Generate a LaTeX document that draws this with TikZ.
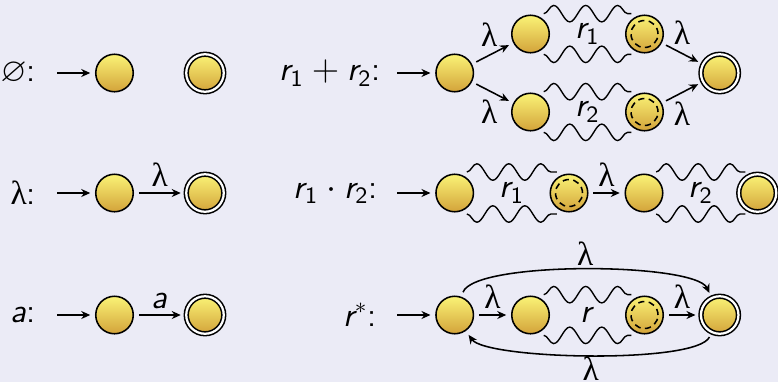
\documentclass[tikz,border=0pt]{standalone}
\usepackage{amsmath,amssymb}
\usepackage{fontspec}
\usepackage{tikz}
\usetikzlibrary{arrows.meta,calc,decorations.pathmorphing}
\newfontfamily\lamfont{Liberation Serif}
\newcommand{\lam}{{\lamfont λ}}
\newcommand{\rv}[1]{\textit{r}_{\textsf{#1}}}
\definecolor{slide}{RGB}{235,235,246}
\definecolor{stTop}{RGB}{250,243,118}
\definecolor{stBot}{RGB}{211,163,58}

\begin{document}
\begin{tikzpicture}[x=0.4pt,y=0.4pt,>={Stealth[length=3.6pt,width=3.2pt]},
  font=\sffamily\fontsize{13.4}{16}\selectfont,line width=0.62pt,
  state/.style={circle,draw,minimum size=15pt,inner sep=0pt,outer sep=2.2pt,
    top color=stTop,bottom color=stBot},
  final/.style={state,double=white,double distance=0.9pt},
  mid/.style={state,path picture={\draw[dash pattern=on 2.5pt off 1.75pt]
    (path picture bounding box.center) circle (5.4pt);}},
  wave/.style={decorate,line width=0.55pt,
    decoration={snake,segment length=12.8pt,amplitude=3.3pt}},
  wavedn/.style={wave,decoration={mirror}}]
  \def\rA{309}  % top row
  \def\rB{189}  % middle row
  \def\rC{67}   % bottom row
  \def\up{348}  % upper branch of r1+r2
  \def\dn{270}  % lower branch of r1+r2
  \useasboundingbox (0,0) rectangle (778,382);
  \fill[slide] (0,0) rectangle (778,382);
  % empty set
  \node[anchor=east] (tE) at (45,\rA) {$\varnothing$:};
  \coordinate (iE) at (57,\rA);
  \node[state] (e0) at (114.5,\rA) {};
  \node[final] (e1) at (205,\rA) {};
  \draw[->] (iE) -- (e0);
  % lambda
  \node[anchor=east] (tL) at (45,\rB) {\lam:};
  \coordinate (iL) at (57,\rB);
  \node[state] (l0) at (114.5,\rB) {};
  \node[final] (l1) at (205,\rB) {};
  \draw[->] (iL) -- (l0);
  \draw[->] (l0) -- node[above=-1pt] (kL) {\lam} (l1);
  % symbol a
  \node[anchor=east] (tS) at (45,\rC) {\textit{a}:};
  \coordinate (iS) at (57,\rC);
  \node[state] (a0) at (114.5,\rC) {};
  \node[final] (a1) at (205,\rC) {};
  \draw[->] (iS) -- (a0);
  \draw[->] (a0) -- node[above=-1pt] (kS) {\textit{a}} (a1);
  % union r1 + r2
  \node[anchor=east] (tU) at (390,\rA) {$\rv{1}+\rv{2}$:};
  \coordinate (iU) at (397,\rA);
  \node[state] (u0) at (454.7,\rA) {};
  \node[state] (u1) at (530.5,\up) {};
  \node[mid] (u2) at (644.5,\up) {};
  \node[state] (d1) at (530.5,\dn) {};
  \node[mid] (d2) at (644.5,\dn) {};
  \node[final] (uf) at (719.7,\rA) {};
  \draw[->] (iU) -- (u0);
  \draw[->] (u0) -- node[above,pos=0.4] (kU1) {\lam} (u1);
  \draw[->] (u0) -- node[below,pos=0.4] (kD1) {\lam} (d1);
  \draw[->] (u2) -- node[above,pos=0.5] (kU2) {\lam} (uf);
  \draw[->] (d2) -- node[below,pos=0.5] (kD2) {\lam} (uf);
  \draw[wave] (u1.57) -- (u2.123);
  \draw[wavedn] (u1.-57) -- (u2.-123);
  \draw[wave] (d1.57) -- (d2.123);
  \draw[wavedn] (d1.-57) -- (d2.-123);
  \node (nU) at ($(u1)!0.5!(u2)$) {$\rv{1}$};
  \node (nD) at ($(d1)!0.5!(d2)$) {$\rv{2}$};
  % concatenation r1 . r2
  \node[anchor=east] (tC) at (387,\rB) {$\rv{1}\cdot\rv{2}$:};
  \coordinate (iC) at (397,\rB);
  \node[state] (c0) at (454.7,\rB) {};
  \node[mid] (c1) at (569,\rB) {};
  \node[state] (c2) at (644,\rB) {};
  \node[final] (c3) at (757.5,\rB) {};
  \draw[->] (iC) -- (c0);
  \draw[->] (c1) -- node[above=-1pt] (kC) {\lam} (c2);
  \draw[wave] (c0.60) -- (c1.120);
  \draw[wavedn] (c0.-60) -- (c1.-120);
  \draw[wave] (c2.60) -- (c3.120);
  \draw[wavedn] (c2.-60) -- (c3.-120);
  \node (nC1) at ($(c0)!0.5!(c1)$) {$\rv{1}$};
  \node (nC2) at ($(c2)!0.5!(c3)$) {$\rv{2}$};
  % star r*
  \node[anchor=east] (tR) at (386,\rC) {$\textit{r}^{*}$:};
  \coordinate (iR) at (397,\rC);
  \node[state] (s0) at (454.7,\rC) {};
  \node[state] (s1) at (530.5,\rC) {};
  \node[mid] (s2) at (644.5,\rC) {};
  \node[final] (sf) at (719.7,\rC) {};
  \draw[->] (iR) -- (s0);
  \draw[->] (s0) -- node[above=-1pt] (kR1) {\lam} (s1);
  \draw[->] (s2) -- node[above=-1pt] (kR2) {\lam} (sf);
  \draw[wave] (s1.57) -- (s2.123);
  \draw[wavedn] (s1.-57) -- (s2.-123);
  \node (nR) at ($(s1)!0.5!(s2)$) {\textit{r}};
  \draw[->] (s0) to[out=70,in=115,looseness=0.35] node[above=-2pt] (kTop) {\lam} (sf);
  \draw[->] (sf) to[out=-115,in=-55,looseness=0.32] node[below=-3pt] (kBot) {\lam} (s0);
\end{tikzpicture}
\end{document}
